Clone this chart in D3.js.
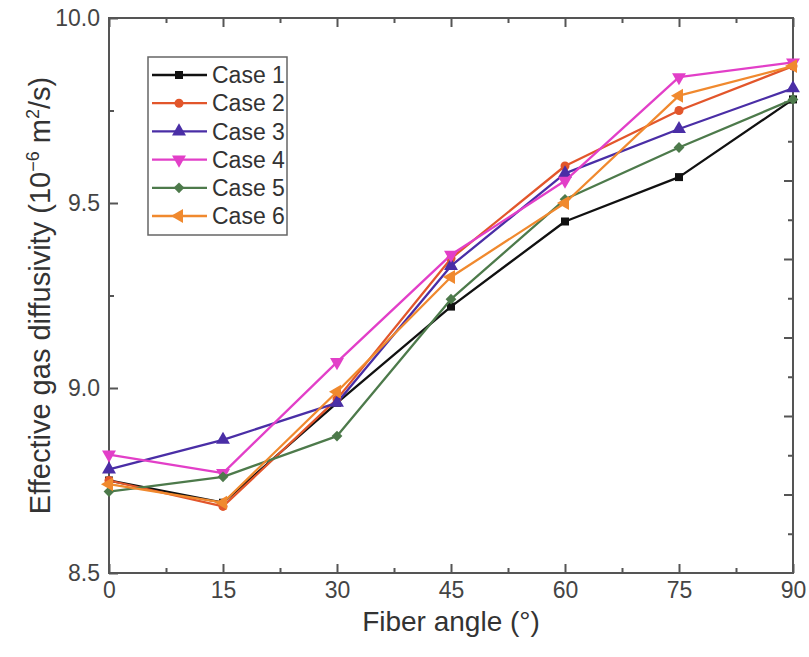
<!DOCTYPE html>
<html>
<head>
<meta charset="utf-8">
<script src="https://cdn.jsdelivr.net/npm/d3@7"></script>
<style>
  html, body { margin: 0; padding: 0; background: #fff; }
  svg { display: block; font-family: "Liberation Sans", Arial, sans-serif; }
</style>
</head>
<body>
<div id="chart"></div>
<script>
	const angles = [0, 15, 30, 45, 60, 75, 90];
	const caseNames = ["Case 1", "Case 2", "Case 3", "Case 4", "Case 5", "Case 6"];
	const case1 = [8.75, 8.69, 8.96, 9.22, 9.45, 9.57, 9.78];
	const case2 = [8.75, 8.68, 8.97, 9.35, 9.60, 9.75, 9.87];
	const case3 = [8.78, 8.86, 8.96, 9.33, 9.58, 9.70, 9.81];
	const case4 = [8.82, 8.77, 9.07, 9.36, 9.56, 9.84, 9.88];
	const case5 = [8.72, 8.76, 8.87, 9.24, 9.51, 9.65, 9.78];
	const case6 = [8.74, 8.69, 8.99, 9.30, 9.50, 9.79, 9.87];
	const xTicks = [0, 15, 30, 45, 60, 75, 90];
	const yTicks = [8.5, 9.0, 9.5, 10.0];

	const colors = ["#111111", "#e2562b", "#4a2ea6", "#e23fc8", "#4d7a4b", "#f0892e"];
	const shapes = [
		{type: d3.symbolSquare, size: 64, rot: 0},
		{type: d3.symbolCircle, size: 64, rot: 0},
		{type: d3.symbolTriangle, size: 84, rot: 0},
		{type: d3.symbolTriangle, size: 84, rot: 180},
		{type: d3.symbolSquare, size: 58, rot: 45},
		{type: d3.symbolTriangle, size: 84, rot: -90}
	];
	const series = [case1, case2, case3, case4, case5, case6];

	const width = 809, height = 657;
	const margin = {top: 18, right: 16, bottom: 84, left: 109};
	const axisColor = "#555";

	const svg = d3.select("#chart").append("svg")
		.attr("width", width).attr("height", height);

	const x = d3.scaleLinear().domain([0, 90]).range([margin.left, width - margin.right]);
	const y = d3.scaleLinear().domain([8.5, 10]).range([height - margin.bottom, margin.top]);
	// right-hand axis carries its own unlabeled tick spacing
	const yRight = d3.scaleLinear().domain([0, 7.07]).range(y.range());

	/*============= axes ===============*/
	function styleAxis(g) {
		g.select(".domain").remove();
		g.selectAll("line").attr("stroke", axisColor).attr("stroke-width", 2);
		g.selectAll("text").attr("fill", "#444").attr("font-size", 23);
	}

	const xMinor = d3.range(7.5, 90, 15);
	const yMinor = [8.75, 9.25, 9.75];

	svg.append("g").attr("transform", `translate(0,${y(8.5)})`)
		.call(d3.axisBottom(x).tickValues(xTicks).tickSize(-9).tickPadding(9).tickFormat(d3.format("d")))
		.call(styleAxis);
	svg.append("g").attr("transform", `translate(0,${y(8.5)})`)
		.call(d3.axisBottom(x).tickValues(xMinor).tickSize(-5).tickFormat(""))
		.call(styleAxis);
	svg.append("g").attr("transform", `translate(0,${y(10)})`)
		.call(d3.axisTop(x).tickValues(xTicks).tickSize(-9).tickFormat(""))
		.call(styleAxis);
	svg.append("g").attr("transform", `translate(0,${y(10)})`)
		.call(d3.axisTop(x).tickValues(xMinor).tickSize(-5).tickFormat(""))
		.call(styleAxis);

	svg.append("g").attr("transform", `translate(${x(0)},0)`)
		.call(d3.axisLeft(y).tickValues(yTicks).tickSize(-9).tickPadding(9).tickFormat(d3.format(".1f")))
		.call(styleAxis);
	svg.append("g").attr("transform", `translate(${x(0)},0)`)
		.call(d3.axisLeft(y).tickValues(yMinor).tickSize(-5).tickFormat(""))
		.call(styleAxis);
	svg.append("g").attr("transform", `translate(${x(90)},0)`)
		.call(d3.axisRight(yRight).tickValues(d3.range(1, 7)).tickSize(-9).tickFormat(""))
		.call(styleAxis);
	svg.append("g").attr("transform", `translate(${x(90)},0)`)
		.call(d3.axisRight(yRight).tickValues(d3.range(0.5, 7, 1)).tickSize(-5).tickFormat(""))
		.call(styleAxis);

	svg.append("rect")
		.attr("x", x(0)).attr("y", y(10))
		.attr("width", x(90) - x(0)).attr("height", y(8.5) - y(10))
		.attr("fill", "none").attr("stroke", axisColor).attr("stroke-width", 2);

	/*============= series ===============*/
	const line = d3.line().x((d, i) => x(angles[i])).y(d => y(d));

	series.forEach((vals, k) => {
		const g = svg.append("g");
		g.append("path").datum(vals)
			.attr("d", line)
			.attr("fill", "none")
			.attr("stroke", colors[k])
			.attr("stroke-width", 2.3)
			.attr("stroke-linejoin", "round");
		g.selectAll("path.mark").data(vals).enter().append("path")
			.attr("class", "mark")
			.attr("d", d3.symbol().type(shapes[k].type).size(shapes[k].size))
			.attr("transform", (d, i) => `translate(${x(angles[i])},${y(d)}) rotate(${shapes[k].rot})`)
			.attr("fill", colors[k]);
	});

	/*============= legend ===============*/
	const legend = svg.append("g").attr("transform", "translate(148,57)");
	legend.append("rect")
		.attr("width", 139).attr("height", 178)
		.attr("fill", "#fff").attr("stroke", "#666").attr("stroke-width", 1.5);
	caseNames.forEach((name, k) => {
		const ly = 18 + k * 28.2;
		legend.append("line")
			.attr("x1", 4).attr("x2", 59).attr("y1", ly).attr("y2", ly)
			.attr("stroke", colors[k]).attr("stroke-width", 2.3);
		legend.append("path")
			.attr("d", d3.symbol().type(shapes[k].type).size(shapes[k].size))
			.attr("transform", `translate(31,${ly}) rotate(${shapes[k].rot})`)
			.attr("fill", colors[k]);
		legend.append("text")
			.attr("x", 64).attr("y", ly).attr("dy", "0.36em")
			.attr("font-size", 23).attr("fill", "#333")
			.text(name);
	});

	/*============= titles ===============*/
	svg.append("text")
		.attr("x", (x(0) + x(90)) / 2).attr("y", 631)
		.attr("text-anchor", "middle").attr("font-size", 28).attr("fill", "#333")
		.text("Fiber angle (°)");

	const yTitle = svg.append("text")
		.attr("transform", `translate(50,${(y(8.5) + y(10)) / 2}) rotate(-90)`)
		.attr("text-anchor", "middle").attr("font-size", 29).attr("fill", "#333");
	yTitle.append("tspan").text("Effective gas diffusivity (10");
	yTitle.append("tspan").attr("font-size", 18).attr("dy", -11).text("−6");
	yTitle.append("tspan").attr("dy", 11).text(" m");
	yTitle.append("tspan").attr("font-size", 18).attr("dy", -11).text("2");
	yTitle.append("tspan").attr("dy", 11).text("/s)");
</script>
</body>
</html>
